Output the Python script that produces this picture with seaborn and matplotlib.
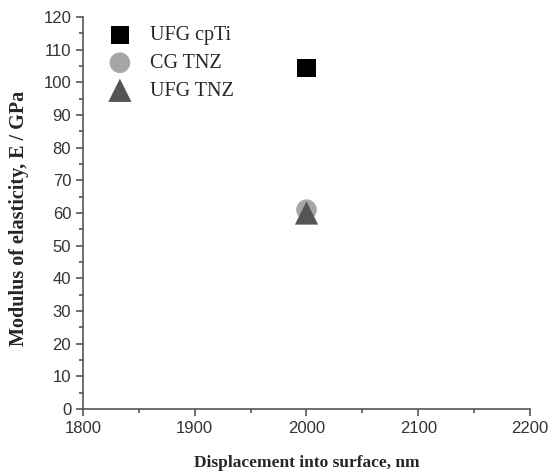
import matplotlib
matplotlib.use("Agg")
import matplotlib.pyplot as plt
import seaborn as sns
import pandas as pd
from matplotlib.ticker import MultipleLocator

materials = ["UFG cpTi", "CG TNZ", "UFG TNZ"]
displacement = [2000, 2000, 2000]
modulus = [104.5, 61.0, 60.0]
colors = ["#000000", "#a6a6a6", "#555555"]
markers = ["s", "o", "^"]
sizes = [170, 220, 280]

df = pd.DataFrame({"Material": materials, "Displacement": displacement, "Modulus": modulus})

sns.set_style("ticks")
fig = plt.figure(figsize=(5.55, 4.76), dpi=100)
ax = fig.add_axes([0.1495, 0.1408, 0.8055, 0.8235])

for m, c, mk, s in zip(materials, colors, markers, sizes):
    sub = df[df["Material"] == m]
    sns.scatterplot(data=sub, x="Displacement", y="Modulus", color=c, marker=mk,
                    s=s, edgecolor="none", label=m, ax=ax, zorder=3)

ax.set_xlim(1800, 2200)
ax.set_ylim(0, 120)
ax.xaxis.set_major_locator(MultipleLocator(100))
ax.xaxis.set_minor_locator(MultipleLocator(50))
ax.yaxis.set_major_locator(MultipleLocator(10))
ax.yaxis.set_minor_locator(MultipleLocator(5))
sns.despine(ax=ax)
for sp in ["left", "bottom"]:
    ax.spines[sp].set_color("#555555")
    ax.spines[sp].set_linewidth(1.2)
ax.tick_params(axis="both", which="major", direction="out", length=5, width=1.2,
               color="#555555", labelsize=12, labelcolor="#333333")
ax.tick_params(axis="both", which="minor", direction="out", length=3, width=1.2, color="#555555")
for lab in ax.get_xticklabels() + ax.get_yticklabels():
    lab.set_fontfamily("Liberation Sans")

ax.set_xlabel("Displacement into surface, nm", fontfamily="Liberation Serif",
              fontweight="bold", fontsize=12.5, labelpad=14)
ax.set_ylabel("Modulus of elasticity, E / GPa", fontfamily="Liberation Serif",
              fontweight="bold", fontsize=14.5)
ax.yaxis.set_label_coords(-0.12, 0.486)

leg = ax.legend(loc="upper left", bbox_to_anchor=(0.006, 1.012), frameon=False,
                prop={"family": "Liberation Serif", "size": 14.5}, handletextpad=0.5,
                labelspacing=0.42, borderaxespad=0.3)

fig.savefig("out.png", dpi=100)
